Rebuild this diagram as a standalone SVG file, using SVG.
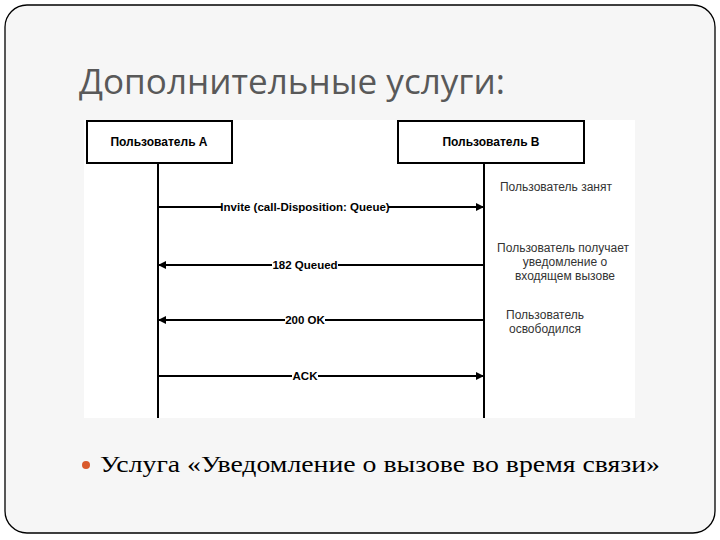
<svg xmlns="http://www.w3.org/2000/svg" width="720" height="540" viewBox="0 0 720 540">
<defs>
<marker id="ah" viewBox="0 0 10 10" refX="10" refY="5" markerWidth="12" markerHeight="8" markerUnits="userSpaceOnUse" orient="auto"><path d="M0,0 L10,5 L0,10 z" fill="#000"/></marker>
<style>
.box{fill:#fff;stroke:#000;stroke-width:2}
.bt{font-family:"Liberation Sans",Arial,sans-serif;font-size:12px;font-weight:bold;text-anchor:middle}
.ml{font-family:"Liberation Sans",Arial,sans-serif;font-size:11.5px;font-weight:bold;text-anchor:middle}
.lb{fill:#fff}
.nt{font-family:"Liberation Sans",Arial,sans-serif;font-size:12px;fill:#333;text-anchor:middle}
.line{stroke:#000;stroke-width:2;fill:none}
</style>
</defs>
<rect x="0" y="0" width="720" height="540" fill="#fff"/>
<rect x="5" y="5" width="710" height="528" rx="22" fill="#f6f6f6" stroke="#000" stroke-width="1.3"/>
<text x="79" y="94" font-family="'Open Sans','Noto Sans',sans-serif" font-size="34" fill="#595959" textLength="426" lengthAdjust="spacingAndGlyphs">Дополнительные услуги:</text>
<rect x="84" y="120" width="551" height="298" fill="#fff"/>
<g id="nodeA"><rect class="box" x="87" y="121" width="145" height="42"/><text class="bt" x="159" y="146">Пользователь A</text></g>
<g id="nodeB"><rect class="box" x="398" y="121" width="186" height="42"/><text class="bt" x="491" y="146">Пользователь B</text></g>
<g id="connectors">
<line class="line" x1="158" y1="163" x2="158" y2="418"/>
<line class="line" x1="484" y1="163" x2="484" y2="418"/>
<line class="line" x1="158" y1="207" x2="484" y2="207" marker-end="url(#ah)"/>
<line class="line" x1="484" y1="265" x2="158" y2="265" marker-end="url(#ah)"/>
<line class="line" x1="484" y1="320" x2="158" y2="320" marker-end="url(#ah)"/>
<line class="line" x1="158" y1="376" x2="484" y2="376" marker-end="url(#ah)"/>
<rect class="lb" x="222" y="199" width="166" height="16"/><text class="ml" x="305" y="211">Invite (call-Disposition: Queue)</text>
<rect class="lb" x="272" y="257" width="66" height="16"/><text class="ml" x="305" y="269">182 Queued</text>
<rect class="lb" x="285" y="312" width="40" height="16"/><text class="ml" x="305" y="324">200 OK</text>
<rect class="lb" x="292" y="368" width="26" height="16"/><text class="ml" x="305" y="380">ACK</text>
</g>
<g id="notes">
<text class="nt" x="556" y="191">Пользователь занят</text>
<text class="nt" x="563" y="252">Пользователь получает</text>
<text class="nt" x="565" y="266">уведомление о</text>
<text class="nt" x="565" y="280">входящем вызове</text>
<text class="nt" x="545" y="319">Пользователь</text>
<text class="nt" x="545" y="333">освободился</text>
</g>
<circle cx="86" cy="465" r="4" fill="#d9592b"/>
<text x="100" y="472" font-family="'Liberation Serif','Times New Roman',serif" font-size="24" fill="#000" textLength="560" lengthAdjust="spacingAndGlyphs">Услуга «Уведомление о вызове во время связи»</text>
</svg>
